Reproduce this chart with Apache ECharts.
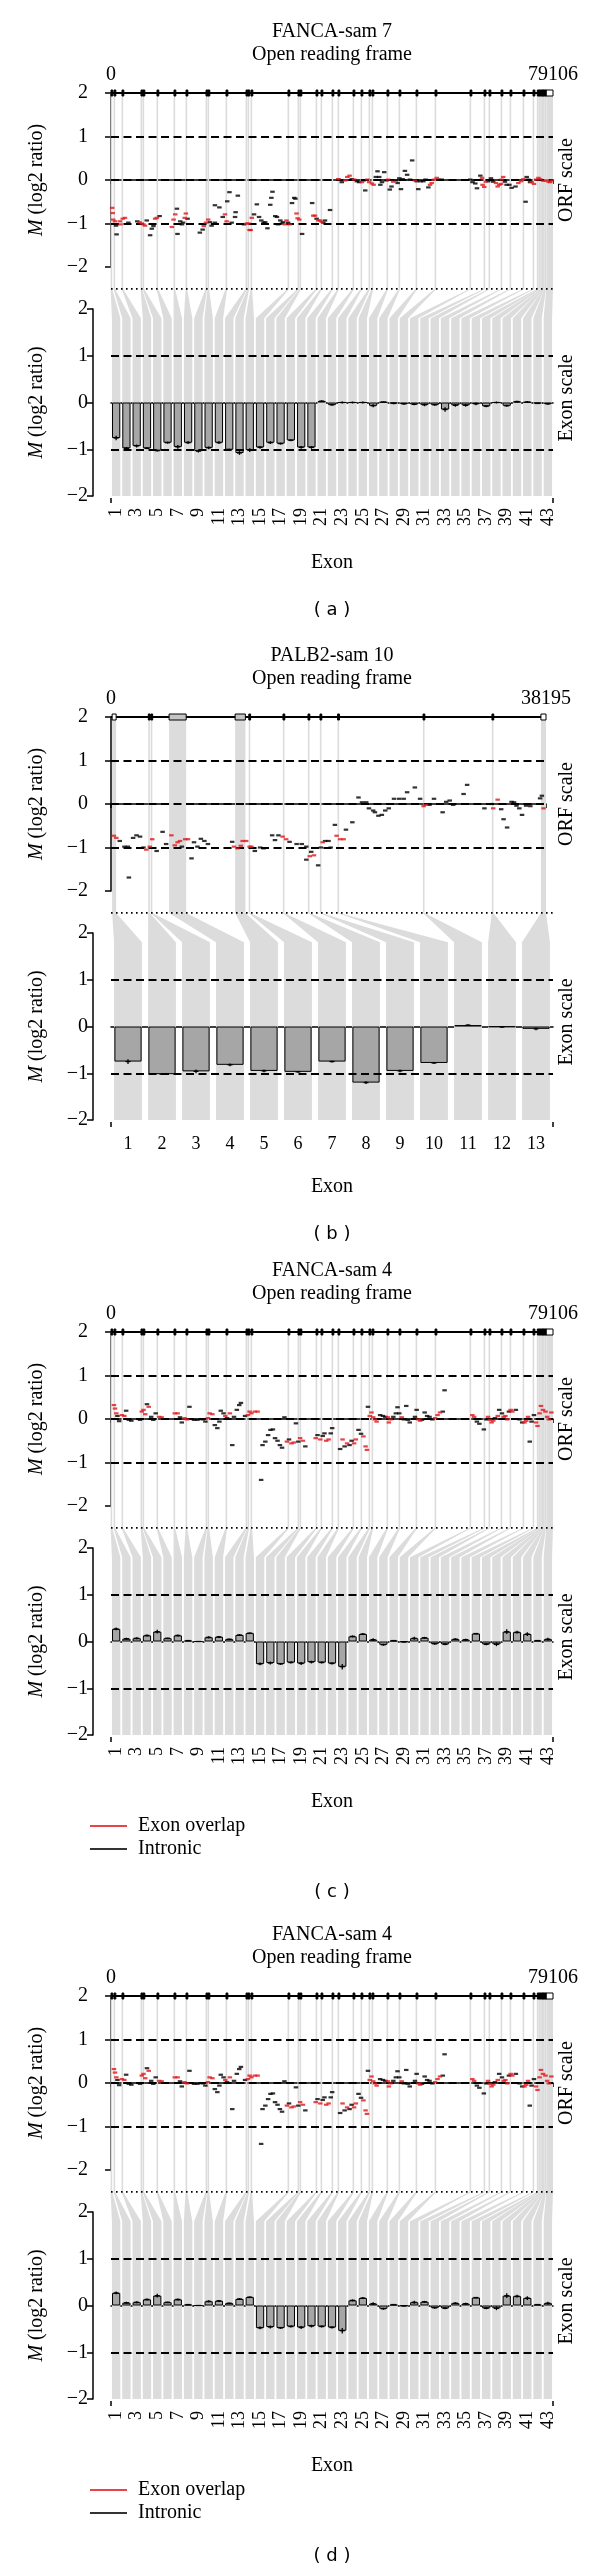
<!DOCTYPE html>
<html>
<head>
<meta charset="utf-8">
<script src="https://cdn.jsdelivr.net/npm/echarts@6/dist/echarts.min.js"></script>
<style>
  html, body { margin: 0; padding: 0; background: #fff; }
  #chart { width: 600px; height: 2573px; }
</style>
</head>
<body>
<div id="chart"></div>
<script>
const SERIF = '"Liberation Serif", "DejaVu Serif", serif';
const RED = '#e3161b';
const BAND = '#dcdcdc';

// gene structures, exon spans in kb along the open reading frame
const fancaLen = 79.106;
const fancaExons = [[0.0,0.15],[0.54,0.66],[1.97,2.09],[5.37,5.49],[5.73,5.85],[8.23,8.35],[11.28,11.4],[13.43,13.55],
  [17.01,17.13],[17.36,17.48],[20.59,20.71],[24.17,24.29],[24.52,24.64],[25.06,25.18],[31.68,31.8],[33.47,33.59],
  [33.83,33.95],[36.7,36.82],[37.59,37.71],[39.56,39.68],[40.63,40.75],[43.32,43.44],[44.75,44.87],[46.18,46.3],
  [46.72,46.84],[49.4,49.52],[51.55,51.67],[54.6,54.72],[58.0,58.12],[64.26,64.38],[66.77,66.89],[67.66,67.78],
  [69.81,69.93],[71.42,71.54],[73.75,73.87],[75.54,75.66],[76.3,76.42],[76.6,76.72],[76.9,77.02],[77.15,77.27],
  [77.4,77.52],[77.65,77.77],[77.9,79.106]];
const fancaOpen = [43];
const fancaLabels = fancaExons.map((e, i) => String(i + 1));

const palb2Len = 38.195;
const palb2Exons = [[0.1,0.45],[3.28,3.4],[3.5,3.62],[5.1,6.6],[10.9,11.8],[12.1,12.22],[15.1,15.22],[17.3,17.42],
  [18.35,18.47],[19.9,20.02],[27.4,27.52],[33.45,33.57],[37.75,38.195]];
const palb2Open = [1, 13];
const palb2Labels = palb2Exons.map((e, i) => String(i + 1));

// ORF scale probes [kb, M]
const sam7Overlap = [[0.2,-0.64],[0.3,-0.76],[0.4,-0.91],[0.7,-0.95],[1.6,-0.95],[1.7,-1.02],[2.1,-0.89],[2.5,-0.87],
  [5.1,-0.97],[5.5,-1.0],[5.8,-1.02],[6.1,-1.05],[7.9,-0.89],[8.2,-0.87],[10.9,-1.08],[11.2,-0.91],[11.5,-0.79],
  [13.2,-0.87],[13.4,-0.77],[16.6,-1.06],[17.0,-0.98],[17.4,-0.91],[20.4,-0.79],[20.7,-0.95],[24.3,-1.0],[24.6,-1.0],
  [24.8,-1.15],[25.0,-1.15],[25.2,-0.87],[31.1,-1.02],[31.4,-0.93],[32.0,-1.02],[33.2,-0.77],[33.4,-0.88],[33.7,-0.91],
  [36.2,-0.82],[36.5,-0.82],[37.1,-0.93],[37.4,-0.93],[37.7,-0.96],[40.7,0.02],[41.9,-0.01],[42.3,0.07],[42.7,0.1],
  [43.5,0.01],[44.9,-0.05],[45.9,0.01],[46.2,-0.05],[46.7,-0.08],[47.0,-0.11],[49.6,0.01],[50.5,-0.04],[54.4,-0.01],
  [57.1,-0.11],[57.4,-0.07],[57.8,0.01],[58.3,0.05],[66.4,0.05],[66.5,-0.11],[66.8,-0.16],[67.1,-0.04],[68.9,-0.07],
  [69.2,-0.15],[69.5,-0.11],[69.8,-0.09],[69.9,0.01],[70.2,0.07],[72.9,-0.07],[73.4,-0.03],[73.8,0.02],[75.3,-0.05],
  [75.7,-0.09],[76.1,0.01],[76.5,0.05],[76.8,0.02],[77.4,-0.02],[77.9,-0.01],[78.3,-0.04],[78.6,-0.05],[78.9,-0.01],
  [79.3,-0.11]];
const sam7Intronic = [[0.9,-1.05],[1.0,-1.25],[3.1,-0.98],[4.7,-0.95],[6.4,-0.93],[7.0,-1.27],[7.3,-1.12],[7.6,-1.06],
  [8.7,-0.83],[11.8,-0.66],[11.9,-1.24],[12.4,-0.95],[12.7,-1.02],[12.9,-0.98],[13.7,-0.89],[15.9,-1.21],[16.4,-1.14],
  [17.7,-0.97],[18.0,-1.05],[18.6,-0.98],[18.6,-0.58],[19.4,-0.63],[20.0,-0.85],[20.8,-0.49],[21.2,-0.28],[21.6,-0.98],
  [22.2,-0.85],[22.3,-0.74],[22.7,-0.36],[23.8,-1.02],[25.6,-0.79],[26.1,-0.56],[26.5,-0.85],[26.9,-0.93],[27.3,-0.98],
  [27.6,-0.97],[28.0,-1.11],[28.5,-0.57],[28.7,-0.41],[28.9,-0.27],[29.4,-0.83],[29.7,-0.85],[29.9,-1.02],[30.3,-0.93],
  [30.6,-1.0],[30.8,-0.97],[31.7,-0.98],[32.4,-0.53],[32.8,-0.41],[33.0,-0.43],[34.2,-1.24],[36.0,-0.53],[36.8,-0.89],
  [38.0,-0.98],[38.3,-0.93],[39.2,-0.69],[40.7,0.01],[41.3,-0.05],[43.1,0.02],[44.0,-0.03],[44.4,-0.05],[45.2,-0.01],
  [45.5,-0.24],[47.4,0.07],[47.7,0.2],[48.0,0.07],[48.2,-0.11],[48.5,-0.05],[48.9,0.18],[49.3,-0.01],[49.9,-0.22],
  [50.2,-0.15],[51.0,-0.01],[51.3,-0.07],[51.6,0.04],[51.9,-0.21],[52.2,0.02],[52.6,0.21],[53.0,0.12],[53.5,0.01],
  [53.9,0.45],[54.7,-0.03],[55.0,-0.21],[55.4,-0.03],[55.9,-0.03],[56.3,0.01],[56.8,-0.17],[58.6,0.01],[59.2,0.01],
  [64.3,0.01],[64.7,-0.05],[65.2,-0.08],[65.5,-0.19],[66.1,0.1],[67.5,-0.03],[68.0,0.04],[68.4,-0.04],[70.5,-0.04],
  [70.8,-0.11],[71.3,-0.11],[71.7,-0.18],[72.4,-0.15],[74.2,-0.5],[74.4,0.07],[74.7,0.01],[75.0,-0.05]];

const sam10Overlap = [[0.25,-0.73],[0.47,-0.78],[3.1,-1.05],[3.4,-0.98],[3.62,-0.81],[5.3,-0.72],[5.6,-0.95],
  [5.85,-0.88],[6.06,-0.85],[6.52,-0.81],[6.76,-0.81],[10.8,-0.98],[11.1,-1.02],[11.4,-0.96],[11.56,-0.85],
  [11.87,-0.85],[12.17,-0.98],[12.33,-0.98],[15.07,-0.75],[15.38,-0.81],[17.45,-1.2],[17.82,-1.18],[18.59,-0.88],
  [19.81,-0.73],[20.12,-0.81],[20.42,-0.81],[27.45,-0.05],[27.66,-0.02],[33.56,-0.1],[33.95,0.1],[37.98,-0.1],
  [38.29,-0.1],[38.6,0.13],[38.84,-0.04]];
const sam10Intronic = [[0.77,-0.85],[1.18,-0.98],[1.48,-0.98],[1.57,-1.69],[1.94,-0.78],[2.24,-0.72],[2.55,-0.75],
  [2.85,-1.0],[4.01,-1.08],[4.53,-0.64],[4.84,-0.92],[6.22,-0.98],[7.07,-1.25],[7.29,-0.88],[7.59,-0.98],[7.89,-0.8],
  [8.2,-0.85],[8.51,-0.92],[10.64,-0.87],[12.63,-1.08],[13.09,-1.0],[13.39,-1.02],[14.15,-0.72],[14.4,-0.83],
  [14.7,-0.72],[15.68,-0.87],[16.3,-0.92],[16.75,-0.92],[17.15,-0.98],[17.15,-1.28],[17.58,-1.1],[18.19,-1.41],
  [18.44,-1.0],[18.8,-0.85],[19.1,-0.85],[19.29,-1.0],[19.66,-0.48],[20.63,-0.59],[21.19,-0.42],[21.73,0.15],
  [22.04,0.04],[22.41,0.04],[22.65,-0.1],[23.02,-0.15],[23.17,-0.19],[23.48,-0.27],[23.78,-0.25],[24.08,-0.15],
  [24.39,-0.1],[24.85,0.12],[25.3,0.12],[25.7,0.12],[26.0,0.27],[26.68,0.38],[27.14,0.12],[27.96,-0.02],[28.36,0.12],
  [29.12,-0.19],[29.43,0.05],[29.74,0.08],[30.04,-0.02],[30.96,0.23],[31.27,0.44],[32.79,-0.1],[33.41,0.0],
  [34.26,-0.12],[34.47,-0.35],[34.78,-0.54],[35.17,0.05],[35.39,0.04],[35.6,-0.04],[35.85,-0.1],[36.09,-0.25],
  [36.45,-0.04],[36.82,-0.05],[37.68,0.13],[37.83,0.19]];

const sam4Overlap = [[0.52,0.32],[0.72,0.24],[0.96,0.13],[1.95,0.09],[2.39,0.07],[5.51,0.17],[5.82,0.21],[6.13,0.11],
  [6.75,0.28],[8.62,0.05],[9.06,0.04],[11.42,0.13],[11.92,0.13],[13.17,0.02],[13.6,-0.01],[17.35,0.02],[17.65,0.13],
  [18.15,0.11],[20.46,0.07],[21.27,0.13],[24.51,0.09],[24.81,0.17],[25.13,0.13],[25.74,0.17],[26.24,0.17],
  [31.49,-0.52],[32.29,-0.56],[32.72,-0.54],[33.85,-0.44],[34.35,-0.5],[36.64,-0.44],[37.46,-0.47],[38.52,-0.5],
  [38.95,-0.47],[41.44,-0.47],[42.26,-0.56],[43.5,-0.56],[43.82,-0.47],[45.18,-0.4],[45.56,-0.63],[45.81,-0.71],
  [46.31,0.07],[46.62,0.15],[46.93,0.04],[47.24,-0.01],[47.54,-0.06],[49.55,0.04],[49.73,-0.08],[50.03,-0.01],
  [52.03,0.04],[55.02,-0.01],[55.33,-0.04],[58.01,0.02],[58.44,0.09],[58.89,0.15],[64.67,0.09],[64.99,0.05],
  [67.48,0.05],[67.79,-0.02],[68.11,-0.08],[68.41,-0.04],[69.22,0.07],[70.28,0.05],[70.6,0.07],[70.9,-0.01],
  [71.53,0.21],[71.83,0.17],[74.02,-0.08],[74.32,-0.04],[74.64,0.05],[76.08,-0.08],[76.33,-0.16],[76.7,0.13],
  [76.95,0.3],[77.31,0.21],[77.76,0.17],[78.06,0.05],[78.38,-0.01],[78.81,0.15],[79.19,0.04],[79.3,0.05]];
const sam4Intronic = [[1.15,0.07],[1.46,-0.05],[2.71,0.19],[3.2,-0.02],[3.64,-0.04],[5.19,-0.02],[6.44,0.34],
  [7.19,0.05],[7.56,-0.02],[8.0,0.13],[12.35,0.04],[12.67,-0.08],[14.04,0.28],[14.86,-0.02],[15.47,-0.02],
  [16.41,-0.01],[16.9,-0.06],[18.58,-0.14],[19.03,-0.21],[19.4,-0.06],[19.65,0.19],[20.14,0.13],[20.76,0.02],
  [21.7,-0.6],[22.02,0.05],[22.52,0.21],[22.95,0.32],[23.25,0.37],[24.0,0.07],[26.87,-1.4],[27.12,-0.6],[27.62,-0.52],
  [28.12,-0.37],[28.55,-0.25],[28.98,-0.24],[29.36,-0.44],[29.8,-0.5],[30.23,-0.6],[30.61,-0.66],[31.04,0.04],
  [31.86,-0.47],[33.1,-0.1],[33.53,-0.52],[34.78,-0.63],[36.96,-0.37],[37.89,-0.39],[38.2,-0.33],[39.33,-0.33],
  [39.58,-0.21],[41.01,-0.69],[41.81,-0.63],[42.69,-0.6],[43.07,-0.5],[44.3,-0.25],[44.75,-0.34],[45.99,0.28],
  [48.17,0.09],[48.67,0.07],[49.1,0.05],[50.53,0.05],[50.98,0.13],[51.28,0.27],[51.59,0.13],[52.41,-0.01],[52.84,0.3],
  [53.15,-0.02],[53.47,-0.08],[54.4,0.05],[54.7,0.21],[55.65,-0.02],[56.14,0.15],[56.58,0.07],[57.01,0.05],
  [57.51,-0.01],[59.38,0.17],[59.7,0.66],[65.48,-0.06],[65.93,-0.11],[66.73,-0.24],[67.16,-0.01],[68.72,0.02],
  [69.47,0.21],[69.97,0.13],[71.22,0.17],[72.46,0.21],[73.09,-0.01],[73.59,-0.08],[74.95,-0.52],[75.27,-0.06],
  [75.7,0.09]];

// exon scale: mean M per exon and error
const sam7Bars = [-0.76,-0.98,-0.93,-0.98,-1.03,-0.86,-0.95,-0.86,-1.04,-0.97,-0.86,-1.01,-1.08,-1.02,-0.96,-0.86,
  -0.88,-0.81,-0.96,-0.96,0.03,-0.05,0.0,0.0,0.0,-0.07,0.01,-0.02,-0.03,-0.04,-0.05,-0.05,-0.15,-0.06,-0.06,-0.03,
  -0.08,0.0,-0.07,0.02,0.01,-0.02,-0.03];
const sam7Errs = [0.05,0.03,0.03,0.02,0.02,0.02,0.04,0.03,0.03,0.03,0.03,0.02,0.04,0.04,0.03,0.03,0.02,0.02,0.03,0.03,
  0.02,0.02,0.02,0.02,0.02,0.03,0.01,0.02,0.02,0.02,0.03,0.02,0.05,0.03,0.03,0.03,0.02,0.02,0.02,0.02,0.02,0.01,0.02];
const sam10Bars = [-0.75,-1.02,-0.96,-0.82,-0.95,-0.97,-0.75,-1.2,-0.95,-0.78,0.03,-0.01,-0.05];
const sam10Errs = [0.05,0.02,0.04,0.03,0.03,0.02,0.02,0.03,0.03,0.02,0.02,0.02,0.03];
const sam4Bars = [0.27,0.06,0.07,0.13,0.21,0.07,0.13,0.02,0.0,0.09,0.1,0.05,0.14,0.18,-0.48,-0.46,-0.48,-0.45,-0.47,
  -0.44,-0.45,-0.47,-0.54,0.11,0.16,0.04,-0.07,0.02,-0.01,0.07,0.08,-0.05,-0.06,0.05,0.04,0.17,-0.06,-0.06,0.21,0.2,
  0.16,0.02,0.05];
const sam4Errs = [0.03,0.02,0.02,0.02,0.04,0.01,0.02,0.01,0.01,0.02,0.02,0.01,0.02,0.01,0.03,0.03,0.02,0.02,0.03,0.03,
  0.02,0.02,0.06,0.02,0.02,0.03,0.02,0.01,0.01,0.03,0.02,0.02,0.02,0.02,0.02,0.01,0.02,0.04,0.05,0.03,0.04,0.01,0.03];

const panels = [
  { letter: 'a', sample: 'FANCA-sam 7', exons: fancaExons, open: fancaOpen, len: fancaLen, labels: fancaLabels,
    overlap: sam7Overlap, intronic: sam7Intronic, bars: sam7Bars, errs: sam7Errs, top: 0, orfRight: 47, rotate: 90, legend: false },
  { letter: 'b', sample: 'PALB2-sam 10', exons: palb2Exons, open: palb2Open, len: palb2Len, labels: palb2Labels,
    overlap: sam10Overlap, intronic: sam10Intronic, bars: sam10Bars, errs: sam10Errs, top: 624, orfRight: 54, rotate: 0, legend: false },
  { letter: 'c', sample: 'FANCA-sam 4', exons: fancaExons, open: fancaOpen, len: fancaLen, labels: fancaLabels,
    overlap: sam4Overlap, intronic: sam4Intronic, bars: sam4Bars, errs: sam4Errs, top: 1239, orfRight: 47, rotate: 90, legend: true },
  { letter: 'd', sample: 'FANCA-sam 4', exons: fancaExons, open: fancaOpen, len: fancaLen, labels: fancaLabels,
    overlap: sam4Overlap, intronic: sam4Intronic, bars: sam4Bars, errs: sam4Errs, top: 1903, orfRight: 47, rotate: 90, legend: true }
];

const chart = echarts.init(document.getElementById('chart'));

const minus = v => String(v).replace('-', '\u2212');
const dashed = { color: '#000', type: [8, 4.5], width: 1.8 };
const axisText = { color: '#000', fontFamily: SERIF, fontSize: 20 };
const yName = {
  name: '{i|M} (log2 ratio)', nameLocation: 'middle', nameGap: 46,
  nameTextStyle: { color: '#000', fontFamily: SERIF, fontSize: 20, rich: { i: { fontStyle: 'italic', fontFamily: SERIF, fontSize: 20 } } }
};

const grid = [], xAxis = [], yAxis = [], series = [], legend = [], graphic = [];
const LINK_Y = 1.8, DOT_Y = 2.43;

panels.forEach((p, k) => {
  const o = p.top;
  const g1 = 2 * k, g3 = 2 * k + 1;
  grid.push({ left: 111, right: p.orfRight, top: 93 + o, height: 174 });
  grid.push({ left: 111, right: 47, top: 309 + o, height: 187 });

  xAxis.push({
    gridIndex: g1, type: 'value', position: 'top', offset: 6, min: 0, max: p.len, interval: p.len,
    axisLine: { show: true, lineStyle: { color: '#000', width: 1.5 } },
    axisTick: { show: true, inside: true, length: 4, lineStyle: { color: '#000', width: 1.5 } },
    splitLine: { show: false },
    axisLabel: Object.assign({ margin: 2, formatter: v => String(Math.round(v * 1000)) }, axisText)
  });
  xAxis.push({
    gridIndex: g3, type: 'category', position: 'bottom', offset: 7, data: p.labels, boundaryGap: true,
    axisLine: { show: true, lineStyle: { color: '#000', width: 1.5 } },
    axisTick: { show: false }, splitLine: { show: false },
    axisLabel: Object.assign({}, axisText, { fontSize: 18, rotate: p.rotate, interval: p.rotate ? 1 : 0, margin: p.rotate ? 5 : 8 })
  });
  [g1, g3].forEach(g => yAxis.push(Object.assign({
    gridIndex: g, type: 'value', min: -2, max: 2, interval: 1, offset: 18,
    axisLine: { show: true, lineStyle: { color: '#000', width: 1.5 } },
    axisTick: { show: true, length: 6, lineStyle: { color: '#000', width: 1.5 } },
    splitLine: { show: false },
    axisLabel: Object.assign({ margin: 5, formatter: minus }, axisText)
  }, yName)));

  const xa = g1, xb = g3, ya = g1, yb = g3;

  // exon positions projected down through the ORF panel
  series.push({
    type: 'custom', xAxisIndex: xa, yAxisIndex: ya, z: 1, silent: true,
    data: p.exons.map(e => [e[0], e[1], 0]), encode: { x: [0, 1], y: 2 },
    renderItem: (params, api) => {
      const a = api.coord([api.value(0), 2]);
      const b = api.coord([api.value(1), -2.5]);
      const w = Math.max(b[0] - a[0], 1.6);
      const cx = (a[0] + b[0]) / 2;
      return { type: 'rect', shape: { x: cx - w / 2, y: a[1], width: w, height: b[1] - a[1] }, style: { fill: BAND } };
    }
  });
  // gene structure on top
  series.push({
    type: 'custom', xAxisIndex: xa, yAxisIndex: ya, z: 6, silent: true,
    data: p.exons.map((e, i) => [e[0], e[1], 0, p.open.includes(i + 1) ? 1 : 0]), encode: { x: [0, 1], y: 2 },
    renderItem: (params, api) => {
      const s = api.coord([api.value(0), 2]);
      const e = api.coord([api.value(1), 2]);
      const w = Math.max(e[0] - s[0], 1.8);
      const open = api.value(3) === 1;
      const children = [];
      if (params.dataIndex === 0) {
        const l0 = api.coord([0, 2]), l1 = api.coord([p.len, 2]);
        children.push({ type: 'line', shape: { x1: l0[0], y1: l0[1], x2: l1[0], y2: l1[1] }, style: { stroke: '#000', lineWidth: 2 } });
      }
      children.push({
        type: 'rect', shape: { x: s[0], y: s[1] - 3, width: w, height: 6 },
        style: { fill: open ? '#fff' : (w > 4 ? '#c4c4c4' : '#000'), stroke: '#000', lineWidth: 1 }
      });
      return { type: 'group', children };
    }
  });
  series.push({
    type: 'scatter', name: 'Intronic', xAxisIndex: xa, yAxisIndex: ya, data: p.intronic, z: 4, silent: true,
    symbol: 'rect', symbolSize: [4.5, 2.2], itemStyle: { color: '#000' },
    markLine: { symbol: 'none', silent: true, label: { show: false }, lineStyle: dashed,
      data: [{ yAxis: 1 }, { yAxis: 0 }, { yAxis: -1 }] }
  });
  series.push({
    type: 'scatter', name: 'Exon overlap', xAxisIndex: xa, yAxisIndex: ya, data: p.overlap, z: 5, silent: true,
    symbol: 'rect', symbolSize: [4.5, 2.2], itemStyle: { color: RED }
  });

  // links from ORF scale to exon scale, plus exon bands
  series.push({
    type: 'custom', xAxisIndex: xb, yAxisIndex: yb, z: 1, silent: true,
    data: p.exons.map((e, i) => [i, 0, e[0], e[1]]), encode: { x: 0, y: 1 },
    renderItem: (params, api) => {
      const i = api.value(0);
      let tl = chart.convertToPixel({ xAxisIndex: xa }, api.value(2));
      let tr = chart.convertToPixel({ xAxisIndex: xa }, api.value(3));
      if (tr - tl < 1.6) { const m = (tl + tr) / 2; tl = m - 0.8; tr = m + 0.8; }
      const c = api.coord([i, LINK_Y]);
      const yDot = api.coord([i, DOT_Y])[1];
      const yBot = api.coord([i, -2])[1];
      const half = api.size([1, 0])[0] * 0.41;
      const children = [{
        type: 'polygon',
        shape: { points: [[tl, yDot], [tr, yDot], [c[0] + half, c[1]], [c[0] + half, yBot], [c[0] - half, yBot], [c[0] - half, c[1]]] },
        style: { fill: BAND }
      }];
      if (params.dataIndex === 0) {
        const cs = params.coordSys;
        children.push({ type: 'line', z2: 20, shape: { x1: cs.x, y1: yDot, x2: cs.x + cs.width, y2: yDot },
          style: { stroke: '#000', lineWidth: 1.6, lineDash: [1.6, 3.4] } });
        [cs.x, cs.x + cs.width].forEach(x => children.push({ type: 'line', z2: 20,
          shape: { x1: x, y1: yBot + 7, x2: x, y2: yBot + 2 }, style: { stroke: '#000', lineWidth: 1.5 } }));
      }
      return { type: 'group', children };
    }
  });
  series.push({
    type: 'bar', xAxisIndex: xb, yAxisIndex: yb, data: p.bars, barWidth: '80%', z: 3, silent: true,
    itemStyle: { color: '#a6a6a6', borderColor: '#000', borderWidth: 1 },
    markLine: { symbol: 'none', silent: true, label: { show: false }, lineStyle: dashed,
      data: [{ yAxis: 1 }, { yAxis: -1 }] }
  });
  series.push({
    type: 'custom', xAxisIndex: xb, yAxisIndex: yb, z: 4, silent: true,
    data: p.bars.map((v, i) => [i, v, p.errs[i]]), encode: { x: 0, y: 1 },
    renderItem: (params, api) => {
      const i = api.value(0), v = api.value(1), e = api.value(2);
      const t = api.coord([i, v + e]), b = api.coord([i, v - e]), m = api.coord([i, v]);
      return { type: 'group', children: [
        { type: 'line', shape: { x1: t[0], y1: t[1], x2: b[0], y2: b[1] }, style: { stroke: '#000', lineWidth: 1.3 } },
        { type: 'line', shape: { x1: m[0] - 2.5, y1: m[1], x2: m[0] + 2.5, y2: m[1] }, style: { stroke: '#000', lineWidth: 1.3 } }
      ] };
    }
  });

  if (p.legend) {
    legend.push({
      left: 85, top: 572 + o, orient: 'vertical', itemWidth: 37, itemHeight: 2, itemGap: 3, selectedMode: false,
      textStyle: { color: '#000', fontFamily: SERIF, fontSize: 20, padding: [0, 0, 0, 6] },
      data: [{ name: 'Exon overlap', icon: 'rect' }, { name: 'Intronic', icon: 'rect' }]
    });
  }

  const txt = (text, x, y, font, rot) => graphic.push({
    type: 'text', x, y, rotation: rot || 0, silent: true,
    style: { text, font, fill: '#000', textAlign: 'center', textVerticalAlign: 'middle', verticalAlign: 'middle' }
  });
  const extra = p.legend ? 43 : 0;
  txt(p.sample, 332, 32 + o, '20px ' + SERIF);
  txt('Open reading frame', 332, 55 + o, '20px ' + SERIF);
  txt('ORF scale', 567, 180 + o, '20px ' + SERIF, Math.PI / 2);
  txt('Exon scale', 567, 398 + o, '20px ' + SERIF, Math.PI / 2);
  txt('Exon', 332, 563 + o, '20px ' + SERIF);
  txt('( ' + p.letter + ' )', 332, 610 + o + extra, '18px "DejaVu Sans", sans-serif');
});

chart.setOption({
  animation: false,
  backgroundColor: '#fff',
  grid, xAxis, yAxis, series, legend,
  graphic: { elements: graphic }
});
</script>
</body>
</html>
